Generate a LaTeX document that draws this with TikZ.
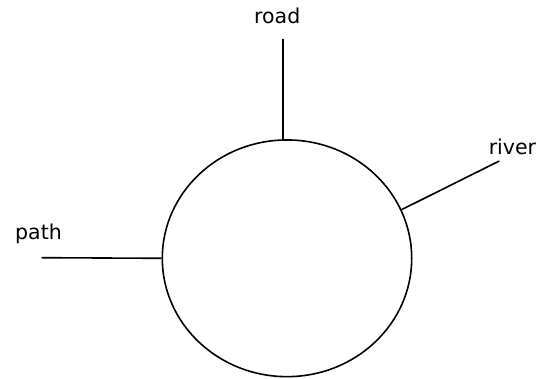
\documentclass[tikz,border=0pt]{standalone}
\usepackage{fontspec}
\setmainfont{DejaVu Sans}
\usetikzlibrary{shapes.geometric}
\begin{document}
\begin{tikzpicture}[x=1pt,y=-1pt,
  lbl/.style={anchor=base west,inner sep=0pt,font=\fontsize{20.5}{24}\selectfont},
  conn/.style={draw=black,line width=1.6pt},
  hub/.style={ellipse,draw=black,line width=1.6pt,inner sep=0pt,minimum width=249.4pt,minimum height=236.7pt}]
\useasboundingbox (0,0) rectangle (546,379);
\node[hub] (c) at (287,258.3) {};
\node[lbl] (road) at (254,23.3) {road};
\node[lbl] (river) at (488.6,155) {river};
\node[lbl] (path) at (15,240) {path};
\coordinate (rd) at (283,39);
\coordinate (rv) at (499.3,161);
\coordinate (pt) at (41.7,257.7);
\draw[conn] (rd) -- (rd |- c.north);
\draw[conn] (rv) -- (c.23);
\draw[conn] (pt) -- (c.west);
\end{tikzpicture}
\end{document}
